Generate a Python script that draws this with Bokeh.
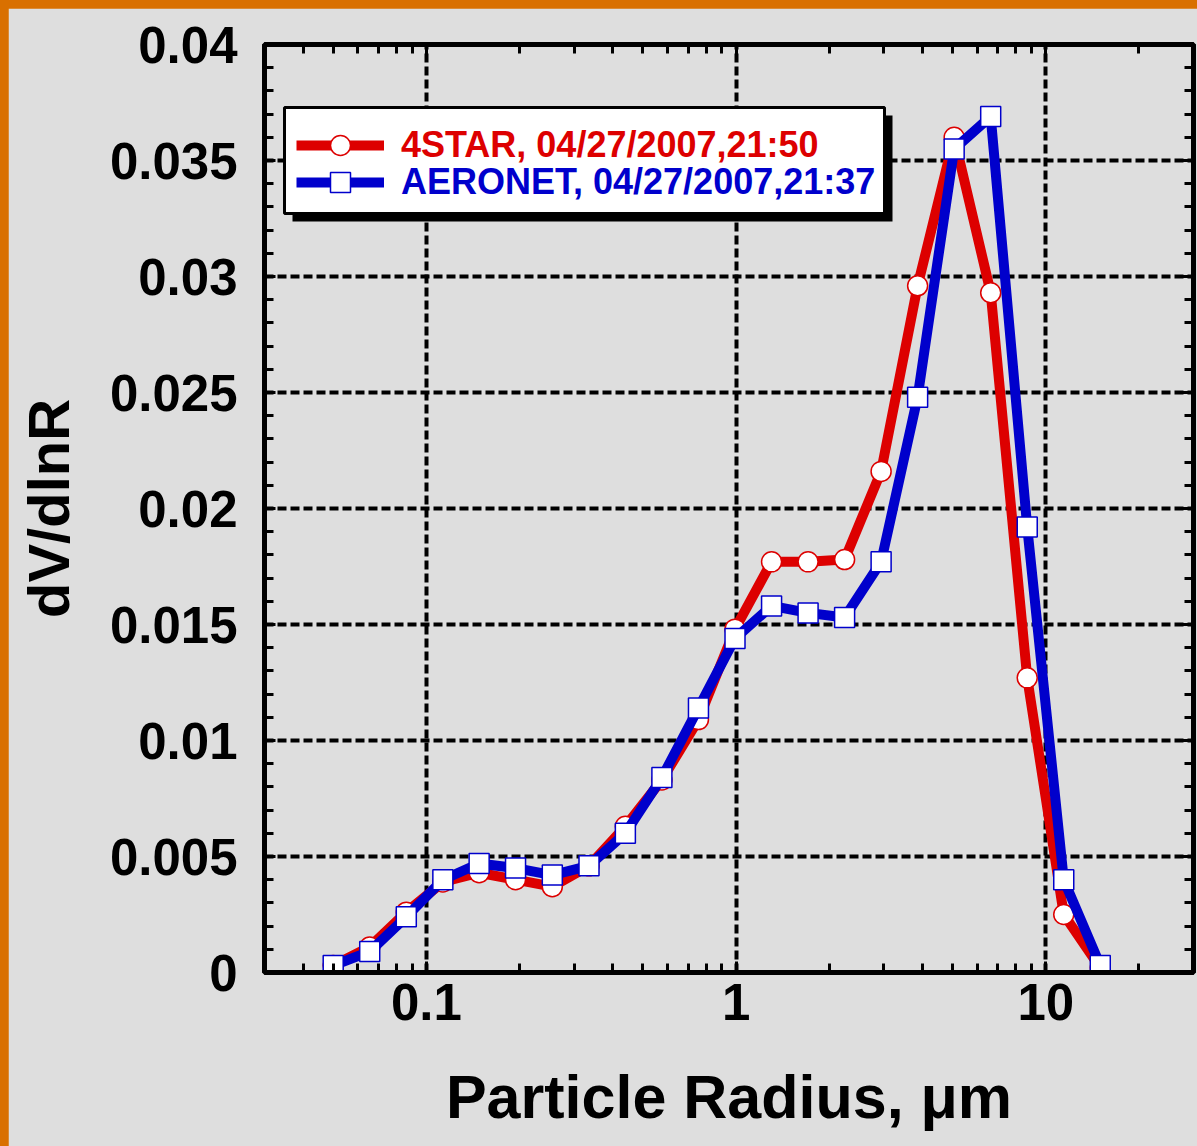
from bokeh.plotting import figure
from bokeh.models import (FixedTicker, LinearAxis, LogAxis, Legend, LegendItem,
                          BoxAnnotation, GlobalInlineStyleSheet)
from bokeh.embed import file_html
from bokeh.resources import INLINE

# ---------------- data ----------------
radius_um = [0.050, 0.0656, 0.0861, 0.113, 0.148, 0.194, 0.255, 0.335, 0.439, 0.576,
             0.756, 0.992, 1.302, 1.708, 2.241, 2.940, 3.857, 5.061, 6.641, 8.713,
             11.432, 15.000]
dv_4star = [0.0003, 0.0011, 0.0026, 0.0039, 0.0043, 0.0040, 0.0037, 0.0046, 0.0063, 0.0083,
            0.0109, 0.0148, 0.0177, 0.0177, 0.0178, 0.0216, 0.0296, 0.0360, 0.0293, 0.0127,
            0.0025, 0.0002]
dv_aeronet = [0.0003, 0.0009, 0.0024, 0.0040, 0.0047, 0.0045, 0.0042, 0.0046, 0.0060, 0.0084,
              0.0114, 0.0144, 0.0158, 0.0155, 0.0153, 0.0177, 0.0248, 0.0355, 0.0369, 0.0192,
              0.0040, 0.0003]
label_4star = "4STAR, 04/27/2007,21:50"
label_aeronet = "AERONET, 04/27/2007,21:37"

x_ticks = [0.1, 1, 10]
x_tick_labels = ["0.1", "1", "10"]
y_ticks = [0, 0.005, 0.01, 0.015, 0.02, 0.025, 0.03, 0.035, 0.04]
y_tick_labels = ["0", "0.005", "0.01", "0.015", "0.02", "0.025", "0.03", "0.035", "0.04"]

# ---------------- style ----------------
BG = "#dedede"
RED = "#dd0000"
BLUE = "#0000cc"
FONT = "Liberation Sans"

x_minor = [m * 10.0 ** e for e in (-2, -1, 0, 1) for m in range(2, 10)]
y_minor = [i * 0.001 for i in range(41)]

p = figure(width=1189, height=1138, x_axis_type="log",
           x_range=(0.03, 30), y_range=(0, 0.04),
           output_backend="svg", toolbar_location=None,
           background_fill_color=BG, border_fill_color=BG,
           min_border_left=256, min_border_right=4, min_border_top=36,
           min_border_bottom=174)
p.stylesheets = [GlobalInlineStyleSheet(
    css="html,body{margin:0;padding:0;} body{padding:8px 0 0 8px;background:#d97000;overflow:hidden;}")]

p.outline_line_color = "black"
p.outline_line_width = 5

xt = FixedTicker(ticks=x_ticks, minor_ticks=x_minor)
yt = FixedTicker(ticks=y_ticks, minor_ticks=y_minor)


def style_axis(ax, show_labels, ticks=None):
    ax.axis_line_color = "black"
    ax.axis_line_width = 5
    ax.major_tick_line_color = "black"
    ax.major_tick_line_width = 3
    ax.major_tick_in = 11
    ax.major_tick_out = 0
    ax.minor_tick_line_color = "black"
    ax.minor_tick_line_width = 3
    ax.minor_tick_in = 9
    ax.minor_tick_out = 0
    if show_labels:
        ax.major_label_text_font = FONT
        ax.major_label_text_font_style = "bold"
        ax.major_label_text_font_size = "51px"
        ax.major_label_text_color = "black"
        ax.axis_label_text_font = FONT
        ax.axis_label_text_font_style = "bold"
        ax.axis_label_text_color = "black"
    else:
        ax.major_label_overrides = {t: "" for t in ticks}
        ax.major_label_text_font_size = "2px"
        ax.major_label_standoff = 0


xa = p.xaxis[0]
xa.ticker = xt
xa.major_label_overrides = dict(zip(x_ticks, x_tick_labels))
xa.axis_label = "Particle Radius, \u03bcm"
style_axis(xa, True)
xa.axis_label_text_font_size = "61px"
xa.major_label_standoff = 11
xa.axis_label_standoff = 40

ya = p.yaxis[0]
ya.ticker = yt
ya.major_label_overrides = dict(zip(y_ticks, y_tick_labels))
ya.axis_label = "dV/dlnR"
style_axis(ya, True)
ya.axis_label_text_font_size = "58px"
ya.major_label_standoff = 27
ya.axis_label_standoff = 26

ra = LinearAxis(ticker=yt)
style_axis(ra, False, y_ticks)
p.add_layout(ra, "right")
ta = LogAxis(ticker=xt)
style_axis(ta, False, x_ticks)
p.add_layout(ta, "above")

p.xgrid.ticker = xt
p.ygrid.ticker = yt
for g in (p.xgrid[0], p.ygrid[0]):
    g.grid_line_color = "black"
    g.grid_line_width = 4
    g.grid_line_dash = "9 4"

# ---------------- series ----------------
r_line = p.line(radius_um, dv_4star, line_color=RED, line_width=10)
r_pts = p.scatter(radius_um, dv_4star, marker="circle", size=20,
                  fill_color="white", line_color=RED, line_width=1.5)
b_line = p.line(radius_um, dv_aeronet, line_color=BLUE, line_width=10)
b_pts = p.scatter(radius_um, dv_aeronet, marker="square", size=20,
                  fill_color="white", line_color=BLUE, line_width=1.5)

# ---------------- legend box with shadow ----------------
FH = 928  # frame height in px (screen units measured from frame bottom)
shadow = BoxAnnotation(left=28, right=628, top=FH - 71, bottom=FH - 177,
                       left_units="screen", right_units="screen",
                       top_units="screen", bottom_units="screen",
                       fill_color="black", fill_alpha=1.0, line_alpha=0)
box = BoxAnnotation(left=20, right=620, top=FH - 63, bottom=FH - 169,
                    left_units="screen", right_units="screen",
                    top_units="screen", bottom_units="screen",
                    fill_color="white", fill_alpha=1.0,
                    line_color="black", line_width=3, line_alpha=1.0)
p.add_layout(shadow)
p.add_layout(box)

ROW_H = 50


def make_legend(item, color, y_center):
    lg = Legend(items=[item], location=(32, y_center - ROW_H // 2), orientation="vertical")
    lg.background_fill_alpha = 0
    lg.border_line_alpha = 0
    lg.padding = 0
    lg.spacing = 0
    lg.glyph_width = 88
    lg.glyph_height = ROW_H
    lg.label_height = ROW_H
    lg.label_standoff = 17
    lg.label_text_font = FONT
    lg.label_text_font_style = "bold"
    lg.label_text_font_size = "36px"
    lg.label_text_color = color
    lg.label_text_baseline = "middle"
    return lg


lg1 = make_legend(LegendItem(label=label_4star, renderers=[r_line, r_pts]), RED, FH - 101)
lg2 = make_legend(LegendItem(label=label_aeronet, renderers=[b_line, b_pts]), BLUE, FH - 138)
p.add_layout(lg1, "center")
p.add_layout(lg2, "center")

open("out.html", "w").write(file_html(p, INLINE))
